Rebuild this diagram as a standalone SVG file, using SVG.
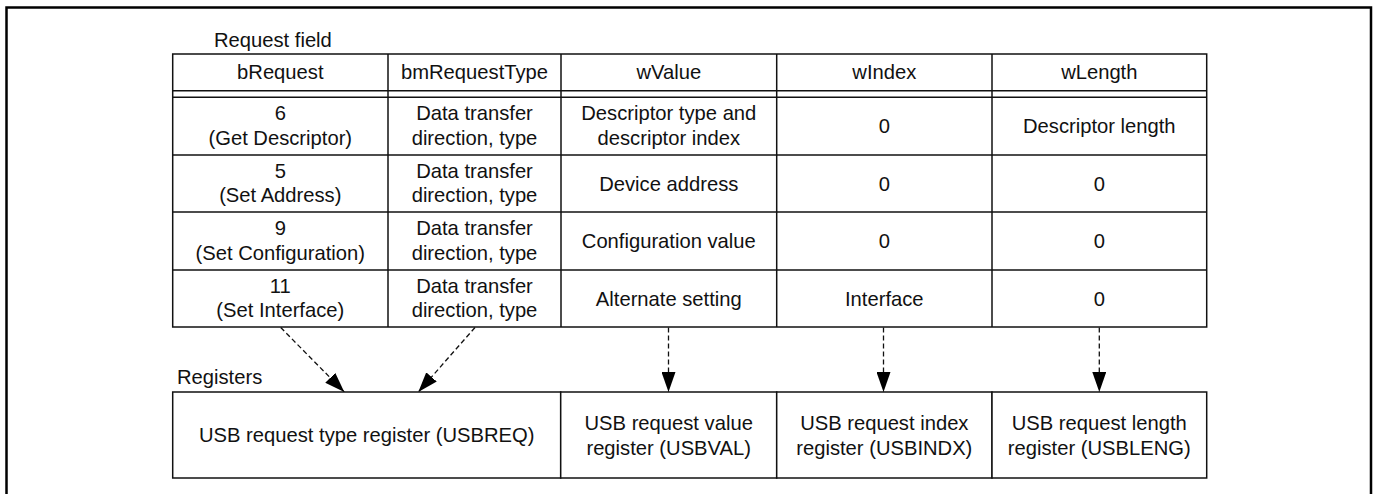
<svg xmlns="http://www.w3.org/2000/svg" width="1374" height="494" viewBox="0 0 1374 494">
  <style>
    text { font-family: "Liberation Sans", Arial, sans-serif; font-size: 20.2px; fill: #111; }
    .c { text-anchor: middle; }
    .cell { fill: #fff; stroke: #111; stroke-width: 1.5; }
    .rule { stroke: #111; stroke-width: 1.5; fill: none; }
    .frame { fill: none; stroke: #000; stroke-width: 2.5; }
    .flow { stroke: #111; stroke-width: 1.3; fill: none; stroke-dasharray: 5 3; marker-end: url(#head); }
  </style>
  <defs>
    <marker id="head" markerUnits="userSpaceOnUse" viewBox="0 0 20 14" markerWidth="20" markerHeight="14" refX="20" refY="7" orient="auto">
      <path d="M0,0 L20,7 L0,14 z" fill="#000"/>
    </marker>
  </defs>

  <rect width="1374" height="494" fill="#fff"/>
  <!-- outer frame (open at the bottom) -->
  <path class="frame" d="M6.5,500 V7.5 H1371 V500"/>

  <text x="214" y="47">Request field</text>

  <!-- request field table -->
  <g id="request-table">
    <rect class="cell" x="172.7" y="54" width="1034" height="273"/>
    <line class="rule" x1="172.7" y1="90.7" x2="1206.7" y2="90.7"/>
    <line class="rule" x1="172.7" y1="97.3" x2="1206.7" y2="97.3"/>
    <line class="rule" x1="172.7" y1="155" x2="1206.7" y2="155"/>
    <line class="rule" x1="172.7" y1="212" x2="1206.7" y2="212"/>
    <line class="rule" x1="172.7" y1="270" x2="1206.7" y2="270"/>
    <line class="rule" x1="388" y1="54" x2="388" y2="327"/>
    <line class="rule" x1="561" y1="54" x2="561" y2="327"/>
    <line class="rule" x1="776.7" y1="54" x2="776.7" y2="327"/>
    <line class="rule" x1="992" y1="54" x2="992" y2="327"/>
  </g>

  <g id="header">
    <text class="c" x="280.3" y="79">bRequest</text>
    <text class="c" x="474.5" y="79">bmRequestType</text>
    <text class="c" x="668.8" y="79">wValue</text>
    <text class="c" x="884.3" y="79">wIndex</text>
    <text class="c" x="1099.3" y="79">wLength</text>
  </g>

  <g id="row-get-descriptor">
    <text class="c" x="280.3" y="120">6</text>
    <text class="c" x="280.3" y="144.5">(Get Descriptor)</text>
    <text class="c" x="474.5" y="120">Data transfer</text>
    <text class="c" x="474.5" y="144.5">direction, type</text>
    <text class="c" x="668.8" y="120">Descriptor type and</text>
    <text class="c" x="668.8" y="144.5">descriptor index</text>
    <text class="c" x="884.3" y="133">0</text>
    <text class="c" x="1099.3" y="133">Descriptor length</text>
  </g>

  <g id="row-set-address">
    <text class="c" x="280.3" y="177.5">5</text>
    <text class="c" x="280.3" y="202">(Set Address)</text>
    <text class="c" x="474.5" y="177.5">Data transfer</text>
    <text class="c" x="474.5" y="202">direction, type</text>
    <text class="c" x="668.8" y="190.5">Device address</text>
    <text class="c" x="884.3" y="190.5">0</text>
    <text class="c" x="1099.3" y="190.5">0</text>
  </g>

  <g id="row-set-configuration">
    <text class="c" x="280.3" y="235">9</text>
    <text class="c" x="280.3" y="259.5">(Set Configuration)</text>
    <text class="c" x="474.5" y="235">Data transfer</text>
    <text class="c" x="474.5" y="259.5">direction, type</text>
    <text class="c" x="668.8" y="248">Configuration value</text>
    <text class="c" x="884.3" y="248">0</text>
    <text class="c" x="1099.3" y="248">0</text>
  </g>

  <g id="row-set-interface">
    <text class="c" x="280.3" y="292.5">11</text>
    <text class="c" x="280.3" y="317">(Set Interface)</text>
    <text class="c" x="474.5" y="292.5">Data transfer</text>
    <text class="c" x="474.5" y="317">direction, type</text>
    <text class="c" x="668.8" y="305.5">Alternate setting</text>
    <text class="c" x="884.3" y="305.5">Interface</text>
    <text class="c" x="1099.3" y="305.5">0</text>
  </g>

  <!-- connectors: request fields to registers -->
  <g id="connectors">
    <line class="flow" x1="280.7" y1="327.5" x2="344.3" y2="392"/>
    <line class="flow" x1="475" y1="327.5" x2="418.3" y2="392"/>
    <line class="flow" x1="668.5" y1="327.5" x2="668.5" y2="392"/>
    <line class="flow" x1="883.5" y1="327.5" x2="883.5" y2="392"/>
    <line class="flow" x1="1099.3" y1="327.5" x2="1099.3" y2="392"/>
  </g>

  <text x="177" y="383.5">Registers</text>

  <g id="reg-usbreq">
    <rect class="cell" x="172.7" y="392" width="388" height="86"/>
    <text class="c" x="366.7" y="442">USB request type register (USBREQ)</text>
  </g>
  <g id="reg-usbval">
    <rect class="cell" x="560.7" y="392" width="216" height="86"/>
    <text class="c" x="668.7" y="430">USB request value</text>
    <text class="c" x="668.7" y="454.5">register (USBVAL)</text>
  </g>
  <g id="reg-usbindx">
    <rect class="cell" x="776.7" y="392" width="215.3" height="86"/>
    <text class="c" x="884.3" y="430">USB request index</text>
    <text class="c" x="884.3" y="454.5">register (USBINDX)</text>
  </g>
  <g id="reg-usbleng">
    <rect class="cell" x="992" y="392" width="214.7" height="86"/>
    <text class="c" x="1099.3" y="430">USB request length</text>
    <text class="c" x="1099.3" y="454.5">register (USBLENG)</text>
  </g>
</svg>
